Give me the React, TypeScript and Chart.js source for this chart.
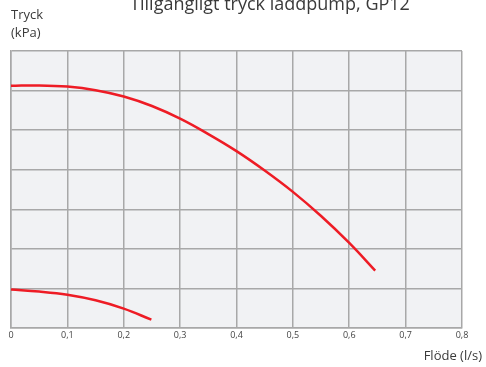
import React, { useEffect, useRef } from "react";
import { Chart, registerables } from "chart.js";

Chart.register(...registerables);

const title = "Tillgängligt tryck laddpump, GP12";
const yAxisTitle = ["Tryck", "(kPa)"];
const xAxisTitle = "Flöde (l/s)";

const flowHigh = [0, 0.05, 0.1, 0.15, 0.2, 0.25, 0.3, 0.35, 0.4, 0.45, 0.5, 0.55, 0.6, 0.646];
const pressureHigh = [61.2, 61.3, 61.0, 60.1, 58.5, 56.1, 52.9, 49.0, 44.7, 39.8, 34.4, 28.3, 21.5, 14.5];

const flowLow = [0, 0.05, 0.1, 0.15, 0.2, 0.249];
const pressureLow = [9.7, 9.2, 8.4, 7.0, 4.9, 2.1];

const xTickMax = 0.8;
const yTickMax = 70;

const LINE_COLOR = "#ee1c25";
const GRID_COLOR = "#a8a8a8";
const PLOT_BG = "#f1f2f4";
const FONT = "'Open Sans', 'Noto Sans', sans-serif";

const textPlugin = {
  id: "customText",
  beforeDraw(chart: any) {
    const { ctx, chartArea } = chart;
    ctx.save();
    ctx.fillStyle = PLOT_BG;
    ctx.fillRect(chartArea.left, chartArea.top, chartArea.right - chartArea.left, chartArea.bottom - chartArea.top);
    ctx.restore();
  },
  afterDraw(chart: any) {
    const { ctx } = chart;
    ctx.save();
    ctx.fillStyle = "#3a3a3a";
    ctx.textBaseline = "alphabetic";
    ctx.font = `18px ${FONT}`;
    ctx.textAlign = "center";
    ctx.fillText(title, 270, 10);
    ctx.font = `13px ${FONT}`;
    ctx.textAlign = "left";
    ctx.fillText(yAxisTitle[0], 11, 19);
    ctx.fillText(yAxisTitle[1], 11, 37);
    ctx.textAlign = "right";
    ctx.fillText(xAxisTitle, 482, 360);
    ctx.restore();
  },
};

export default function App() {
  const ref = useRef<HTMLCanvasElement | null>(null);
  useEffect(() => {
    document.body.style.margin = "0";
    const canvas = ref.current!;
    const chart = new Chart(canvas, {
      type: "line",
      data: {
        datasets: [
          {
            data: flowHigh.map((x, i) => ({ x, y: pressureHigh[i] })),
            borderColor: LINE_COLOR,
            borderWidth: 2.5,
            pointRadius: 0,
            tension: 0.4,
            fill: false,
          },
          {
            data: flowLow.map((x, i) => ({ x, y: pressureLow[i] })),
            borderColor: LINE_COLOR,
            borderWidth: 2.5,
            pointRadius: 0,
            tension: 0.4,
            fill: false,
          },
        ],
      },
      options: {
        animation: false,
        responsive: false,
        devicePixelRatio: 1,
        layout: { padding: { left: 11, top: 51, right: 24, bottom: 0 } },
        plugins: { legend: { display: false }, title: { display: false }, tooltip: { enabled: false } },
        scales: {
          x: {
            type: "linear",
            min: 0,
            max: xTickMax,
            ticks: {
              stepSize: 0.1,
              maxRotation: 0,
              autoSkip: false,
              color: "#444",
              font: { size: 9, family: FONT },
              padding: 2,
              callback: (v: any) => (Number(v) === 0 ? "0" : Number(v).toFixed(1).replace(".", ",")),
            },
            grid: { color: GRID_COLOR, lineWidth: 1.5, drawTicks: false },
            border: { color: GRID_COLOR, width: 1.5 },
            afterFit: (s: any) => {
              s.height = 39;
            },
          },
          y: {
            type: "linear",
            min: 0,
            max: yTickMax,
            ticks: { stepSize: 10, display: false },
            grid: { color: GRID_COLOR, lineWidth: 1.5, drawTicks: false },
            border: { color: GRID_COLOR, width: 1.5 },
            afterFit: (s: any) => {
              s.width = 0;
            },
          },
        },
      },
      plugins: [textPlugin],
    });
    return () => chart.destroy();
  }, []);
  return (
    <div style={{ position: "absolute", left: 0, top: 0, width: 486, height: 367 }}>
      <canvas ref={ref} width={486} height={367} style={{ width: 486, height: 367, display: "block" }} />
    </div>
  );
}
